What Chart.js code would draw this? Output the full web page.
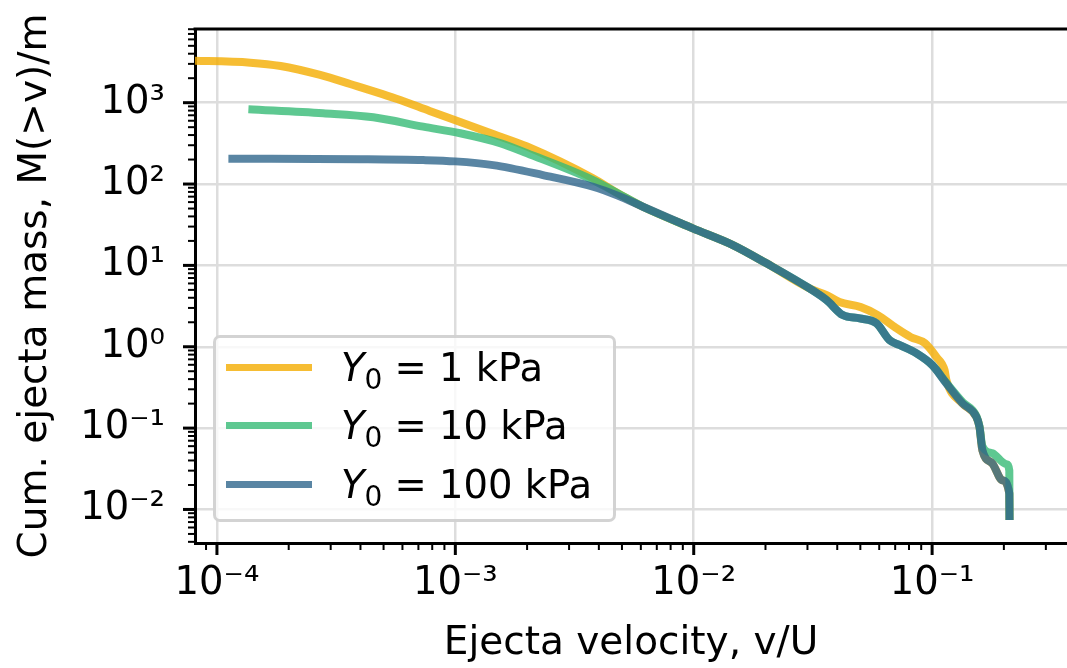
<!DOCTYPE html>
<html>
<head>
<meta charset="utf-8">
<script src="https://cdn.jsdelivr.net/npm/chart.js@4.4.1/dist/chart.umd.min.js"></script>
<style>
  body { margin: 0; background: #fff; }
  #wrap { position: relative; width: 1067px; height: 668px; }
  #legend {
    position: absolute; left: 213px; top: 335px; width: 397px; height: 181px;
    border: 3px solid rgba(200,200,200,0.8); border-radius: 7px;
    background: rgba(255,255,255,0.8);
    font-family: 'DejaVu Sans'; font-size: 38.5px; color: #000;
  }
  .row { position: absolute; left: 10px; height: 58px; display: flex; align-items: center; white-space: nowrap; }
  .swatch { width: 86px; height: 7px; margin-right: 29px; }
  .row i { font-style: oblique; }
  .row sub { font-size: 28px; vertical-align: -8px; line-height: 0; }
</style>
</head>
<body>
<div id="wrap">
  <canvas id="chart" width="1067" height="668"></canvas>
  <div id="legend"></div>
</div>
<script>
// axis limits
const X_MIN = 8.09e-5, X_MAX = 0.368;
const Y_MIN = 3.87e-3, Y_MAX = 8050;

const names = ['1', '10', '100'];   // Y0 in kPa
const colors = ['rgba(244,173,0,0.8)', 'rgba(54,186,118,0.8)', 'rgba(48,102,140,0.8)'];

// Y0 = 1 kPa
const vel1 = [7.5e-5, 1.38e-4, 1.85e-4, 2.71e-4, 3.62e-4, 5.87e-4, 7.8e-4, 1.048e-3, 1.44e-3, 2.0e-3,
  3.78e-3, 4.8e-3, 6.12e-3, 9.91e-3, 1.46e-2, 2.02e-2, 3.06e-2, 3.61e-2, 4.09e-2, 5.02e-2,
  5.92e-2, 6.98e-2, 8.15e-2, 9.33e-2, 0.1043, 0.1128, 0.1148, 0.134, 0.1534, 0.158,
  0.1625, 0.179, 0.197, 0.2108, 0.2112];
const mass1 = [3290, 3105, 2825, 2193, 1698, 1079, 791, 579, 412, 289,
  117.5, 77, 52.6, 28.5, 17.8, 10.6, 5.21, 4.31, 3.54, 3.07,
  2.45, 1.74, 1.31, 1.107, 0.745, 0.515, 0.388, 0.201, 0.137, 0.1035,
  0.0535, 0.0367, 0.0229, 0.0157, 0.0074];

// Y0 = 10 kPa
const vel2 = [1.355e-4, 2.79e-4, 4.53e-4, 7.33e-4, 1.048e-3, 1.54e-3, 2.0e-3, 3.78e-3, 4.8e-3, 6.12e-3, 9.91e-3,
  1.46e-2, 2.02e-2, 3.06e-2, 3.61e-2, 4.22e-2, 4.97e-2, 5.85e-2, 6.62e-2, 7.3e-2, 8.61e-2,
  0.1002, 0.1148, 0.134, 0.1534, 0.158, 0.1625, 0.179, 0.205, 0.2108, 0.2112];
const mass2 = [830, 741, 661, 507, 421, 319, 239, 112, 77, 52.6, 28.5,
  17.8, 10.6, 5.21, 3.74, 2.45, 2.23, 1.94, 1.21, 1.05, 0.828,
  0.594, 0.36, 0.21, 0.14, 0.105, 0.06, 0.049, 0.036, 0.030, 0.0074];

// Y0 = 100 kPa
const vel3 = [1.117e-4, 4.0e-4, 7.33e-4, 1.0e-3, 1.44e-3, 2.33e-3, 3.78e-3, 4.8e-3, 6.12e-3, 9.91e-3,
  1.46e-2, 2.02e-2, 3.06e-2, 3.61e-2, 4.22e-2, 4.97e-2, 5.85e-2, 6.62e-2, 7.3e-2, 8.61e-2,
  0.1002, 0.1148, 0.134, 0.1534, 0.158, 0.1625, 0.179, 0.197, 0.2108, 0.2112];
const mass3 = [205, 202, 197, 190, 171, 129, 92.7, 72, 52.6, 28.5,
  17.8, 10.6, 5.21, 3.74, 2.45, 2.23, 1.94, 1.21, 1.05, 0.828,
  0.594, 0.354, 0.201, 0.137, 0.1035, 0.0535, 0.0367, 0.0229, 0.0157, 0.0074];

const vels = [vel1, vel2, vel3];
const masses = [mass1, mass2, mass3];

const TICK_FONT = { family: 'DejaVu Sans', size: 38.5 };
const TITLE_FONT = { family: 'DejaVu Sans', size: 39 };
const SUP = { '-': '\u207B', '0': '\u2070', '1': '\u00B9', '2': '\u00B2', '3': '\u00B3', '4': '\u2074',
  '5': '\u2075', '6': '\u2076', '7': '\u2077', '8': '\u2078', '9': '\u2079' };

function isMajor(v) {
  const l = Math.log10(v);
  return Math.abs(l - Math.round(l)) < 1e-6;
}

function logTicks(min, max) {
  const out = [];
  for (let k = Math.floor(Math.log10(min)); k <= Math.ceil(Math.log10(max)); k++) {
    for (let m = 1; m <= 9; m++) {
      const v = m * Math.pow(10, k);
      if (v >= min * (1 - 1e-9) && v <= max * (1 + 1e-9)) out.push({ value: v });
    }
  }
  return out;
}

function tickLabel(v) {
  if (!isMajor(v)) return '';
  const e = String(Math.round(Math.log10(v)));
  return '10' + e.split('').map(c => SUP[c]).join('');
}

// top spine + major/minor tick marks
const frame = {
  id: 'frame',
  afterDraw(chart) {
    const { ctx, chartArea: a, scales: { x, y } } = chart;
    ctx.save();
    ctx.strokeStyle = '#000';
    x.ticks.forEach(t => {
      const px = x.getPixelForValue(t.value);
      if (px < a.left - 0.5 || px > a.right + 0.5) return;
      const major = isMajor(t.value);
      ctx.lineWidth = major ? 3 : 2;
      ctx.beginPath();
      ctx.moveTo(px, a.bottom);
      ctx.lineTo(px, a.bottom + (major ? 12 : 7));
      ctx.stroke();
    });
    y.ticks.forEach(t => {
      const py = y.getPixelForValue(t.value);
      if (py < a.top - 0.5 || py > a.bottom + 0.5) return;
      const major = isMajor(t.value);
      ctx.lineWidth = major ? 3 : 2;
      ctx.beginPath();
      ctx.moveTo(a.left, py);
      ctx.lineTo(a.left - (major ? 12 : 7), py);
      ctx.stroke();
    });
    ctx.lineWidth = 3;
    ctx.beginPath();
    ctx.moveTo(a.left - 1.5, a.top);
    ctx.lineTo(a.right, a.top);
    ctx.stroke();
    ctx.restore();
  }
};

const gridColor = c => (c.tick && isMajor(c.tick.value)) ? '#dddddd' : 'rgba(0,0,0,0)';

const chart = new Chart(document.getElementById('chart'), {
  type: 'line',
  data: {
    datasets: names.map((n, i) => ({
      label: 'Y0 = ' + n + ' kPa',
      data: vels[i].map((v, j) => ({ x: v, y: masses[i][j] })),
      borderColor: colors[i],
      borderWidth: 8,
      pointRadius: 0,
      fill: false,
      cubicInterpolationMode: 'monotone',
      clip: 0,
      order: 2 - i
    }))
  },
  options: {
    responsive: false,
    animation: false,
    layout: { padding: { top: 29, right: 0, left: 0, bottom: 0 } },
    plugins: { legend: { display: false }, tooltip: { enabled: false } },
    scales: {
      x: {
        type: 'logarithmic', min: X_MIN, max: X_MAX,
        afterBuildTicks: s => { s.ticks = logTicks(X_MIN, X_MAX); },
        afterFit: s => { s.height = 125; s.paddingLeft = 0; s.paddingRight = 0; },
        ticks: { autoSkip: false, maxRotation: 0, padding: 18, color: '#000', font: TICK_FONT, callback: v => tickLabel(v) },
        grid: { drawTicks: false, lineWidth: 2.5, color: gridColor },
        border: { color: '#000', width: 3 },
        title: { display: true, text: 'Ejecta velocity, v/U', color: '#000', font: TITLE_FONT, padding: { top: 0, bottom: 1 } }
      },
      y: {
        type: 'logarithmic', min: Y_MIN, max: Y_MAX,
        afterBuildTicks: s => { s.ticks = logTicks(Y_MIN, Y_MAX); },
        afterFit: s => { s.width = 195; s.paddingTop = 0; s.paddingBottom = 0; },
        ticks: { autoSkip: false, padding: 30, color: '#000', font: TICK_FONT, callback: v => tickLabel(v) },
        grid: { drawTicks: false, lineWidth: 2.5, color: gridColor },
        border: { color: '#000', width: 3 },
        title: { display: true, text: 'Cum. ejecta mass, M(>v)/m', color: '#000', font: TITLE_FONT, padding: { top: 12, bottom: 0 } }
      }
    }
  },
  plugins: [frame]
});

// legend as html so Y can be italic with a subscript
const legend = document.getElementById('legend');
names.forEach((n, i) => {
  const row = document.createElement('div');
  row.className = 'row';
  row.style.top = (i * 58.5) + 'px';
  row.innerHTML = '<span class="swatch" style="background:' + colors[i] + '"></span>' +
    '<span><i>Y</i><sub>0</sub> = ' + n + ' kPa</span>';
  legend.appendChild(row);
});
</script>
</body>
</html>
